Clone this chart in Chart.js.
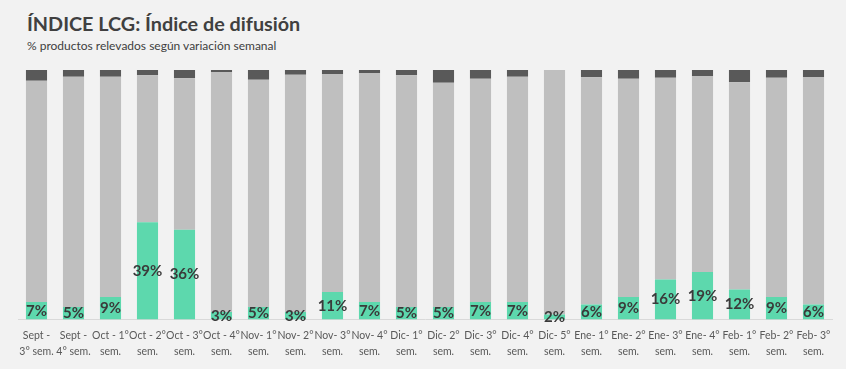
<!DOCTYPE html>
<html>
<head>
<meta charset="utf-8">
<script src="https://cdn.jsdelivr.net/npm/chart.js@4"></script>
<style>
  html, body { margin: 0; padding: 0; background: #f2f2f2; }
  #wrap { position: relative; width: 846px; height: 369px; overflow: hidden; }
  #title { position: absolute; left: 27px; top: 11px; font-family: Lato, sans-serif; font-weight: bold; font-size: 19.8px; color: #404040; white-space: nowrap; }
  #sub { position: absolute; left: 27px; top: 38px; font-family: Lato, sans-serif; font-size: 12px; color: #404040; white-space: nowrap; }
  canvas { position: absolute; left: 0; top: 0; }
</style>
</head>
<body>
<div id="wrap">
  <div id="title">ÍNDICE LCG: Índice de difusión</div>
  <div id="sub">% productos relevados según variación semanal</div>
  <canvas id="c" width="846" height="369"></canvas>
</div>
<script>
const categories = [
  ["Sept -", "3° sem."], ["Sept -", "4° sem."], ["Oct - 1°", "sem."], ["Oct - 2°", "sem."],
  ["Oct - 3°", "sem."], ["Oct - 4°", "sem."], ["Nov- 1°", "sem."], ["Nov- 2°", "sem."],
  ["Nov- 3°", "sem."], ["Nov- 4°", "sem."], ["Dic- 1°", "sem."], ["Dic- 2°", "sem."],
  ["Dic- 3°", "sem."], ["Dic- 4°", "sem."], ["Dic- 5°", "sem."], ["Ene- 1°", "sem."],
  ["Ene- 2°", "sem."], ["Ene- 3°", "sem."], ["Ene- 4°", "sem."], ["Feb- 1°", "sem."],
  ["Feb- 2°", "sem."], ["Feb- 3°", "sem."]
];
const greenValues = [7, 5, 9, 39, 36, 3, 5, 3, 11, 7, 5, 5, 7, 7, 2, 6, 9, 16, 19, 12, 9, 6];
const grayValues = [88.7, 92.3, 88.3, 58.9, 60.7, 96.2, 91.1, 95.1, 87.4, 91.8, 92.9, 89.9, 89.5, 90.3, 98, 91.1, 87.5, 80.9, 78.6, 83.1, 87.9, 91.2];
const darkValues = [4.3, 2.7, 2.7, 2.1, 3.3, 0.8, 3.9, 1.9, 1.6, 1.2, 2.1, 5.1, 3.5, 2.7, 0, 2.9, 3.5, 3.1, 2.4, 4.9, 3.1, 2.8];

const labelPlugin = {
  id: 'greenLabels',
  afterDatasetsDraw(chart) {
    const ctx = chart.ctx;
    const meta = chart.getDatasetMeta(0);
    ctx.save();
    ctx.font = 'bold 15px Lato, sans-serif';
    ctx.fillStyle = '#3a3a3a';
    ctx.textAlign = 'center';
    ctx.textBaseline = 'middle';
    meta.data.forEach((bar, i) => {
      const cy = (bar.y + bar.base) / 2;
      ctx.fillText(greenValues[i] + '%', bar.x, cy);
    });
    ctx.restore();
  }
};

new Chart(document.getElementById('c'), {
  type: 'bar',
  data: {
    labels: categories,
    datasets: [
      { data: greenValues, backgroundColor: '#5dd8ad', barPercentage: 0.57, categoryPercentage: 1 },
      { data: grayValues, backgroundColor: '#bfbfbf', barPercentage: 0.57, categoryPercentage: 1 },
      { data: darkValues, backgroundColor: '#595959', barPercentage: 0.57, categoryPercentage: 1 }
    ]
  },
  options: {
    responsive: false,
    animation: false,
    layout: { padding: { top: 70, left: 18, right: 14, bottom: 10 } },
    plugins: { legend: { display: false }, tooltip: { enabled: false }, title: { display: false } },
    scales: {
      x: {
        stacked: true,
        grid: { display: false },
        border: { display: true, color: '#d9d9d9', width: 1 },
        ticks: {
          color: '#595959', padding: 0, maxRotation: 0, autoSkip: false,
          font: { family: 'Lato, sans-serif', size: 10.5, lineHeight: 1.5 }
        }
      },
      y: { stacked: true, display: false, min: 0, max: 100 }
    }
  },
  plugins: [labelPlugin]
});
</script>
</body>
</html>
